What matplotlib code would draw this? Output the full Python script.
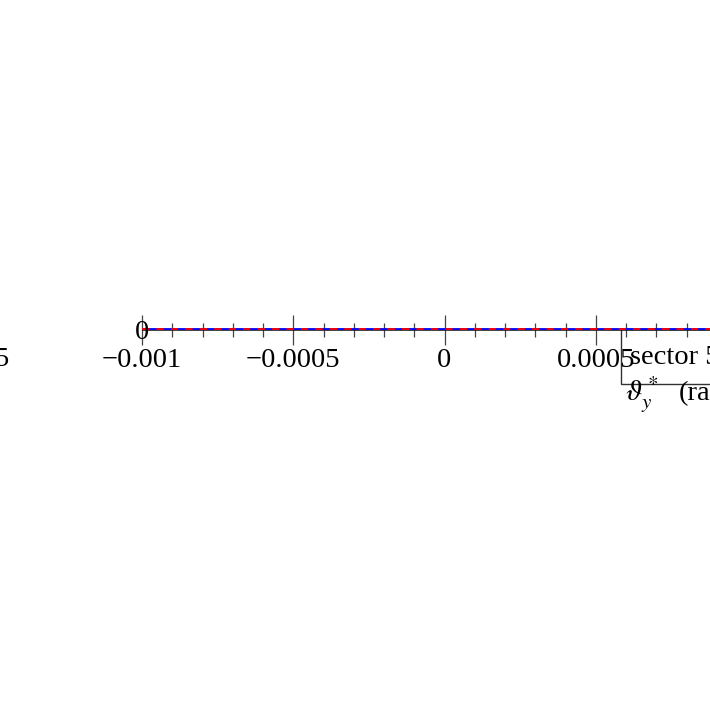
import matplotlib.pyplot as plt
from matplotlib.patches import Rectangle
from matplotlib.ticker import MultipleLocator

plt.rcParams['font.family'] = ['Liberation Serif', 'DejaVu Serif']
plt.rcParams['mathtext.fontset'] = 'stix'

# veriler
theta_y = [-0.001, 0.0, 0.001]
sector_a = [0.0, 0.0, 0.0]
sector_b = [0.0, 0.0, 0.0]
x_ticks = [-0.001, -0.0005, 0.0, 0.0005]
x_tick_labels = ['\u22120.001', '\u22120.0005', '0', '0.0005']
legend_text = 'sector 56'

FS = 20.5
fig = plt.figure(figsize=(7.1, 7.03), dpi=100)
W, H = 710, 703
ax = fig.add_axes([142 / W, 1 - 329.5 / H, 605 / W, 1 / H])
ax.patch.set_visible(False)

ax.plot(theta_y, sector_a, color='#0000ff', lw=1.3, solid_capstyle='butt',
        clip_on=False, zorder=4)
ax.plot(theta_y, sector_b, color='#ff0000', lw=1.3, dashes=(4, 4),
        clip_on=False, zorder=5)

ax.set_xlim(-0.001, 0.001)
ax.set_ylim(-1, 1)
ax.set_xticks(x_ticks)
ax.set_xticklabels(x_tick_labels)
ax.xaxis.set_minor_locator(MultipleLocator(0.0001))
ax.set_yticks([])

ax.tick_params(axis='x', which='major', direction='inout', length=21.5, width=0.9,
               color='#444444', labelsize=FS, pad=2.5)
ax.tick_params(axis='x', which='minor', direction='inout', length=10, width=0.9,
               color='#444444')

for s in ax.spines.values():
    s.set_linewidth(0.6)
    s.set_color('#222222')

# y ekseni etiketi (0)
fig.text(142 / W, 1 - 333 / H, '0', fontsize=FS, ha='center', va='center', zorder=6)

# lejant kutusu (eksenin altinda cizilir, tik etiketleri ustte kalir)
fig.patches.append(Rectangle((621 / W, 1 - 384 / H), 120 / W, 55 / H,
                             transform=fig.transFigure, facecolor='white',
                             edgecolor='#333333', lw=1.0, zorder=-1))
fig.text(630.5 / W, 1 - 364 / H, legend_text, fontsize=FS, ha='left', va='baseline', zorder=6)

# x ekseni etiketi
fig.text(625 / W, 1 - 400 / H, r'$\vartheta_y^*$', fontsize=FS + 1, ha='left',
         va='baseline', zorder=7)
fig.text(679 / W, 1 - 400 / H, '(rad)', fontsize=FS, ha='left', va='baseline', zorder=7)

# soldaki kesik etiket
fig.text(9 / W, 1 - 366 / H, '5', fontsize=FS, ha='right', va='baseline')

fig.savefig('out.png', dpi=100)
